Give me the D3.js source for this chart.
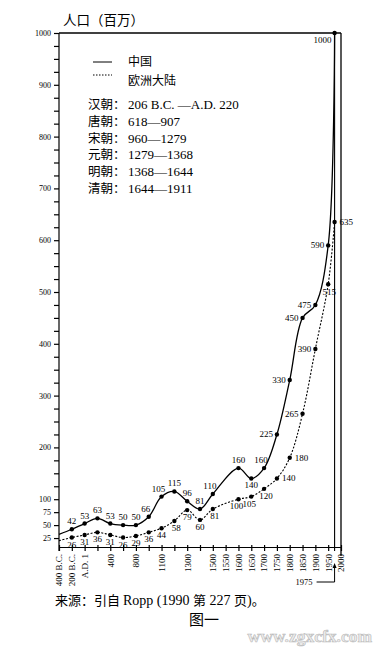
<!DOCTYPE html>
<html>
<head>
<meta charset="utf-8">
<script src="https://cdn.jsdelivr.net/npm/d3@7"></script>
<style>
  body { margin: 0; background: #fff; }
  .num { font-family: "Liberation Serif", "DejaVu Serif", serif; }
  .cjk { font-family: "Noto Sans CJK SC", sans-serif; }
</style>
</head>
<body>
<script>
// Population of China and continental Europe (millions), after Ropp 1990.

const periods = ["400 B.C.", "200 B.C.", "A.D. 1", "200", "400", "600", "800", "1000",
  "1100", "1200", "1300", "1400", "1500", "1550", "1600", "1650", "1700", "1750",
  "1800", "1850", "1900", "1950", "2000"];
const labelledPeriods = ["400 B.C.", "200 B.C.", "A.D. 1", "400", "800", "1100", "1300",
  "1500", "1550", "1600", "1650", "1700", "1750", "1800", "1850", "1900", "1950", "2000"];

const seriesPeriods = ["400 B.C.", "200 B.C.", "A.D. 1", "200", "400", "600", "800", "1000",
  "1100", "1200", "1300", "1400", "1500", "1600", "1650", "1700", "1750", "1800",
  "1850", "1900", "1950", "1975"];
const chinaValues = [32, 42, 53, 63, 53, 50, 50, 66, 105, 115, 96, 81, 110, 160, 140, 160,
  225, 330, 450, 475, 590, 1000];
const europeValues = [20, 26, 31, 36, 31, 26, 29, 36, 44, 58, 79, 60, 81, 100, 105, 120,
  140, 180, 265, 390, 515, 635];

const yTicks = d3.range(25, 1001, 25);
const yLabels = [25, 50, 75, 100, 200, 300, 400, 500, 600, 700, 800, 900, 1000];

const dynasties = [
  ["汉朝：", "206 B.C. —A.D. 220"],
  ["唐朝：", "618—907"],
  ["宋朝：", "960—1279"],
  ["元朝：", "1279—1368"],
  ["明朝：", "1368—1644"],
  ["清朝：", "1644—1911"]
];

const width = 376;
const height = 647;

const svg = d3.select("body")
    .append("svg")
    .attr("width", width)
    .attr("height", height);

const x = d3.scalePoint().domain(periods).range([59, 341]);
const y = d3.scaleLinear().domain([0, 1000]).range([551, 33]);
const axisY = 547;

// 1975 sits half way between the 1950 and 2000 ticks
function xPos(p) {
  return p === "1975" ? (x("1950") + x("2000")) / 2 : x(p);
}

// Axes

const yAxis = svg.append("g")
    .attr("transform", "translate(59,0)")
    .call(d3.axisLeft(y)
      .tickValues(yTicks)
      .tickSize(5)
      .tickSizeOuter(0)
      .tickPadding(3)
      .tickFormat(d => yLabels.includes(d) ? d : ""));
yAxis.select(".domain").attr("d", "M0," + (axisY + 4) + "V" + y(1000));
yAxis.selectAll("text").attr("class", "num").style("font-size", "8px");

const xAxis = svg.append("g")
    .attr("transform", "translate(0," + axisY + ")")
    .call(d3.axisBottom(x)
      .tickSizeOuter(0)
      .tickFormat(d => labelledPeriods.includes(d) ? d : ""));
xAxis.selectAll(".tick line").attr("y1", -2).attr("y2", 4);
xAxis.selectAll("text")
    .attr("class", "num")
    .style("font-size", "9px")
    .style("text-anchor", "end")
    .attr("transform", "rotate(-90)")
    .attr("x", -7)
    .attr("y", 0)
    .attr("dy", "0.32em");

svg.selectAll(".domain, .tick line").attr("stroke", "#000").attr("stroke-width", 1.2);
svg.selectAll(".tick text").attr("fill", "#000");

// top frame, 1975 and 2000 verticals
svg.append("line")
    .attr("x1", x("400 B.C.")).attr("x2", x("2000"))
    .attr("y1", y(1000)).attr("y2", y(1000))
    .attr("stroke", "#000").attr("stroke-width", 1.3);
svg.append("line")
    .attr("x1", x("2000")).attr("x2", x("2000"))
    .attr("y1", y(1000)).attr("y2", axisY + 9)
    .attr("stroke", "#000").attr("stroke-width", 1.3);
svg.append("line")
    .attr("x1", xPos("1975")).attr("x2", xPos("1975"))
    .attr("y1", y(1000)).attr("y2", axisY + 4)
    .attr("stroke", "#000").attr("stroke-width", 1.1);

// 1975 pointer below the axis
const x75 = xPos("1975");
svg.append("path")
    .attr("d", "M" + (x75 - 18) + ",582H" + x75 + "V566")
    .attr("fill", "none").attr("stroke", "#000").attr("stroke-width", 1);
svg.append("path")
    .attr("d", "M" + x75 + ",563l-2,5h4z")
    .attr("fill", "#000");
svg.append("text")
    .attr("class", "num")
    .attr("x", x75 - 22).attr("y", 585)
    .attr("text-anchor", "end")
    .style("font-size", "8.5px")
    .text("1975");

// Lines

const rows = seriesPeriods.map((p, i) => ({ p: p, i: i, china: chinaValues[i], europe: europeValues[i] }));

const line = key => d3.line()
    .x(d => xPos(d.p))
    .y(d => y(d[key]))
    .curve(d3.curveCatmullRom.alpha(0.5));

svg.append("path")
    .datum(rows)
    .attr("d", line("china"))
    .attr("fill", "none").attr("stroke", "#000").attr("stroke-width", 1.3);

svg.append("path")
    .datum(rows)
    .attr("d", line("europe"))
    .attr("fill", "none").attr("stroke", "#000").attr("stroke-width", 1.1)
    .attr("stroke-dasharray", "2,1.6");

// Points (the 400 B.C. start has no marker)
const marked = rows.slice(1);

["china", "europe"].forEach(key => {
  svg.selectAll(".dot-" + key)
      .data(marked)
      .enter()
      .append("circle")
      .attr("class", "dot-" + key)
      .attr("cx", d => xPos(d.p))
      .attr("cy", d => y(d[key]))
      .attr("r", 2.2)
      .attr("fill", "#000");
});

// label placement: [dx, dy, anchor]
function chinaPlace(p) {
  if (p === "1975") return [-3, 10, "end"];
  if (p === "1650") return [0, 10, "middle"];
  if (["1750", "1800", "1850", "1900", "1950"].includes(p)) return [-4, 3, "end"];
  if (["1000", "1100", "1500", "1700"].includes(p)) return [-3, -5, "middle"];
  return [0, -5, "middle"];
}
function europePlace(p) {
  if (["1750", "1800", "1975"].includes(p)) return [5, 3, "start"];
  if (["1850", "1900"].includes(p)) return [-4, 3, "end"];
  if (["1200", "1500", "1700"].includes(p)) return [2, 10, "middle"];
  if (p === "1950") return [1, 11, "middle"];
  if (["1600", "1650"].includes(p)) return [-2, 10, "middle"];
  return [0, 10, "middle"];
}

[["china", chinaPlace], ["europe", europePlace]].forEach(([key, place]) => {
  svg.selectAll(".lab-" + key)
      .data(marked)
      .enter()
      .append("text")
      .attr("class", "num lab-" + key)
      .attr("x", d => xPos(d.p) + place(d.p)[0])
      .attr("y", d => y(d[key]) + place(d.p)[1])
      .attr("text-anchor", d => place(d.p)[2])
      .style("font-size", "9px")
      .text(d => d[key]);
});

// Title

svg.append("text")
    .attr("class", "cjk")
    .attr("x", 63).attr("y", 25)
    .style("font-size", "13.5px")
    .text("人口（百万）");

// Legend

svg.append("line")
    .attr("x1", 93).attr("x2", 112).attr("y1", 62).attr("y2", 62)
    .attr("stroke", "#000").attr("stroke-width", 1);
svg.append("line")
    .attr("x1", 93).attr("x2", 112).attr("y1", 75).attr("y2", 75)
    .attr("stroke", "#000").attr("stroke-width", 1)
    .attr("stroke-dasharray", "1.5,1.5");
svg.append("text").attr("class", "cjk")
    .attr("x", 128).attr("y", 66).style("font-size", "12px").text("中国");
svg.append("text").attr("class", "cjk")
    .attr("x", 128).attr("y", 85).style("font-size", "12px").text("欧洲大陆");

// dynasty list: name and years as two texts per row
const dynRows = svg.selectAll(".dyn")
    .data(dynasties)
    .enter()
    .append("g")
    .attr("class", "dyn")
    .attr("transform", (d, i) => "translate(0," + (109 + i * 16.8) + ")");
dynRows.append("text")
    .attr("class", "cjk")
    .attr("x", 88)
    .style("font-size", "12.5px")
    .text(d => d[0]);
dynRows.append("text")
    .attr("class", "num")
    .attr("x", 128)
    .style("font-size", "13px")
    .text(d => d[1]);

// Source and caption

const src = svg.append("text")
    .attr("x", 55).attr("y", 605)
    .style("font-size", "13px");
src.append("tspan").attr("class", "cjk").text("来源：引自 ");
src.append("tspan").attr("class", "num").style("font-size", "14px").text("Ropp (1990 ");
src.append("tspan").attr("class", "cjk").text("第");
src.append("tspan").attr("class", "num").style("font-size", "14px").text(" 227 ");
src.append("tspan").attr("class", "cjk").text("页");
src.append("tspan").attr("class", "num").style("font-size", "14px").text(")");
src.append("tspan").attr("class", "cjk").text("。");

svg.append("text")
    .attr("class", "cjk")
    .attr("x", 204).attr("y", 625)
    .attr("text-anchor", "middle")
    .style("font-size", "15px")
    .text("图一");

svg.append("text")
    .attr("class", "num")
    .attr("x", 372).attr("y", 642)
    .attr("text-anchor", "end")
    .style("font-size", "17.5px")
    .style("font-weight", "bold")
    .attr("fill", "#ececec")
    .attr("stroke", "#b8b8b8")
    .attr("stroke-width", 0.6)
    .text("www.zgxcfx.com");
</script>
</body>
</html>
